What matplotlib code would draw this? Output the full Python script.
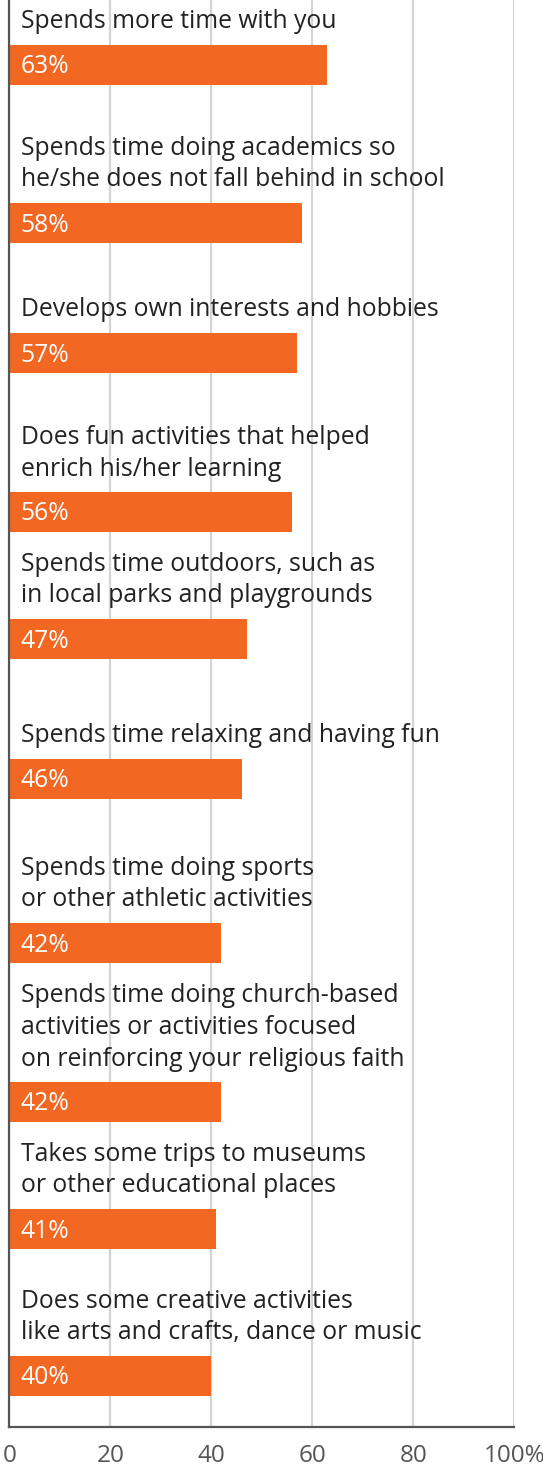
import matplotlib.pyplot as plt

plt.rcParams['font.family'] = ['Open Sans', 'DejaVu Sans']

# Données
labels = [
    "Spends more time with you",
    "Spends time doing academics so\nhe/she does not fall behind in school",
    "Develops own interests and hobbies",
    "Does fun activities that helped\nenrich his/her learning",
    "Spends time outdoors, such as\nin local parks and playgrounds",
    "Spends time relaxing and having fun",
    "Spends time doing sports\nor other athletic activities",
    "Spends time doing church-based\nactivities or activities focused\non reinforcing your religious faith",
    "Takes some trips to museums\nor other educational places",
    "Does some creative activities\nlike arts and crafts, dance or music",
]
values = [63, 58, 57, 56, 47, 46, 42, 42, 41, 40]
ticks = [0, 20, 40, 60, 80, 100]
tick_labels = ["0", "20", "40", "60", "80", "100%"]

# Mise en page : position verticale de chaque ligne (axe inversé)
rows = [64.5, 223, 353, 512, 639, 778.5, 943, 1102, 1229, 1376]
bar_h = 40

orange = '#F26722'
dark = '#222222'
grey = '#555555'

fig = plt.figure(figsize=(5.43, 14.68), dpi=100)
ax = fig.add_axes([9.3 / 543, 41 / 1468, 505 / 543, 1 - 41 / 1468])

ax.barh(rows, values, height=bar_h, color=orange, zorder=3)

for y, v, lab in zip(rows, values, labels):
    # valeur dans la barre
    ax.text(2.25, y + 2, f"{v}%", color='white', fontsize=17.8,
            va='center', ha='left', zorder=4)
    # libellé au-dessus de la barre
    ax.text(2.25, y - bar_h / 2 - 16.5, lab, color=dark, fontsize=17.8,
            va='baseline', ha='left', linespacing=1.36, zorder=4)

ax.set_xlim(0, 100)
ax.set_ylim(1427, 0)
ax.set_xticks(ticks)
ax.set_xticklabels(tick_labels)
ax.set_yticks([])
ax.tick_params(axis='x', length=0, pad=12, labelsize=17.5, labelcolor=grey)

ax.grid(axis='x', color='#d4d4d4', linewidth=1.6, zorder=0)
ax.set_axisbelow(True)
for s in ['top', 'right']:
    ax.spines[s].set_visible(False)
ax.spines['left'].set_color(grey)
ax.spines['bottom'].set_color(grey)
ax.spines['left'].set_linewidth(1.6)
ax.spines['bottom'].set_linewidth(1.6)
ax.spines['left'].set_zorder(5)

fig.savefig('out.png', dpi=100)
